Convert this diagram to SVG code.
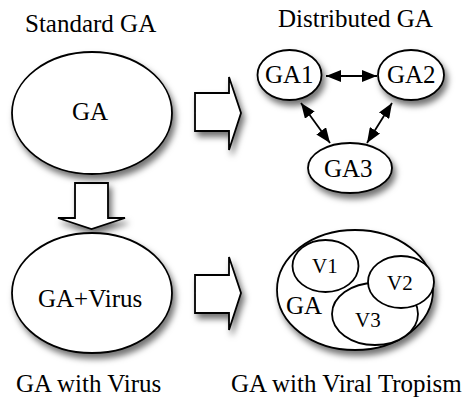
<svg xmlns="http://www.w3.org/2000/svg" width="469" height="398" viewBox="0 0 469 398">
<defs>
<filter id="sh" x="-20%" y="-20%" width="150%" height="160%">
<feDropShadow dx="3" dy="5" stdDeviation="3" flood-color="#000" flood-opacity="0.55"/>
</filter>
<marker id="ah" viewBox="0 0 15 12" refX="15" refY="6" markerWidth="15" markerHeight="12" markerUnits="userSpaceOnUse" orient="auto-start-reverse">
<path d="M0,0 L15,6 L0,12 Z" fill="#000"/>
</marker>
</defs>
<style>
.n{fill:#fff;stroke:#000;stroke-width:1.8}
.c{fill:none;stroke:#000;stroke-width:1.8;marker-start:url(#ah);marker-end:url(#ah)}
.a{fill:#fff;stroke:#000;stroke-width:1.8;stroke-linejoin:miter}
</style>
<rect width="469" height="398" fill="#fff"/>
<g id="titles">
<text font-family="Times New Roman, Liberation Serif, serif" font-size="25" x="25" y="32">Standard GA</text>
<text font-family="Times New Roman, Liberation Serif, serif" font-size="25" x="278" y="27">Distributed GA</text>
<text font-family="Times New Roman, Liberation Serif, serif" font-size="25" x="16" y="392">GA with Virus</text>
<text font-family="Times New Roman, Liberation Serif, serif" font-size="25" x="231" y="392">GA with Viral Tropism</text>
</g>

<g id="arrows">
<path class="a" filter="url(#sh)" d="M195,93 H229 V77 L241,113 L229,150 V131 H195 Z"/>
<path class="a" filter="url(#sh)" d="M195,275 H229 V257 L241,293 L229,330 V313 H195 Z"/>
<path class="a" filter="url(#sh)" d="M75,183 H108 V218 H125 L91.5,229 L58,218 H75 Z"/>
</g>

<g id="ga">
<ellipse class="n" filter="url(#sh)" cx="92" cy="113" rx="80" ry="61"/>
<text font-family="Times New Roman, Liberation Serif, serif" font-size="25" x="72" y="120">GA</text>
</g>

<g id="gavirus">
<ellipse class="n" filter="url(#sh)" cx="92" cy="293" rx="80" ry="60"/>
<text font-family="Times New Roman, Liberation Serif, serif" font-size="25" x="38" y="307">GA+Virus</text>
</g>

<g id="ga1">
<ellipse class="n" filter="url(#sh)" cx="289.5" cy="75" rx="32" ry="25"/>
<text font-family="Times New Roman, Liberation Serif, serif" font-size="25" x="265" y="83">GA1</text>
</g>
<g id="ga2">
<ellipse class="n" filter="url(#sh)" cx="411" cy="75" rx="33" ry="25"/>
<text font-family="Times New Roman, Liberation Serif, serif" font-size="25" x="387" y="83">GA2</text>
</g>
<g id="ga3">
<ellipse class="n" filter="url(#sh)" cx="350" cy="168" rx="42" ry="25"/>
<text font-family="Times New Roman, Liberation Serif, serif" font-size="25" x="324" y="177">GA3</text>
</g>

<g id="connectors">
<line class="c" x1="326" y1="76" x2="377" y2="76"/>
<line class="c" x1="301" y1="103" x2="330" y2="143"/>
<line class="c" x1="392" y1="103" x2="367" y2="143"/>
</g>

<g id="tropism">
<ellipse class="n" filter="url(#sh)" cx="355" cy="290" rx="78" ry="60"/>
<ellipse class="n" cx="325.5" cy="266" rx="33" ry="26"/>
<ellipse class="n" cx="375" cy="314" rx="43" ry="31"/>
<ellipse class="n" cx="401" cy="282" rx="33" ry="26"/>
<text font-family="Times New Roman, Liberation Serif, serif" font-size="21" x="312" y="273">V1</text>
<text font-family="Times New Roman, Liberation Serif, serif" font-size="21" x="387" y="290">V2</text>
<text font-family="Times New Roman, Liberation Serif, serif" font-size="21" x="355" y="327">V3</text>
<text font-family="Times New Roman, Liberation Serif, serif" font-size="25" x="286" y="314">GA</text>
</g>
</svg>
